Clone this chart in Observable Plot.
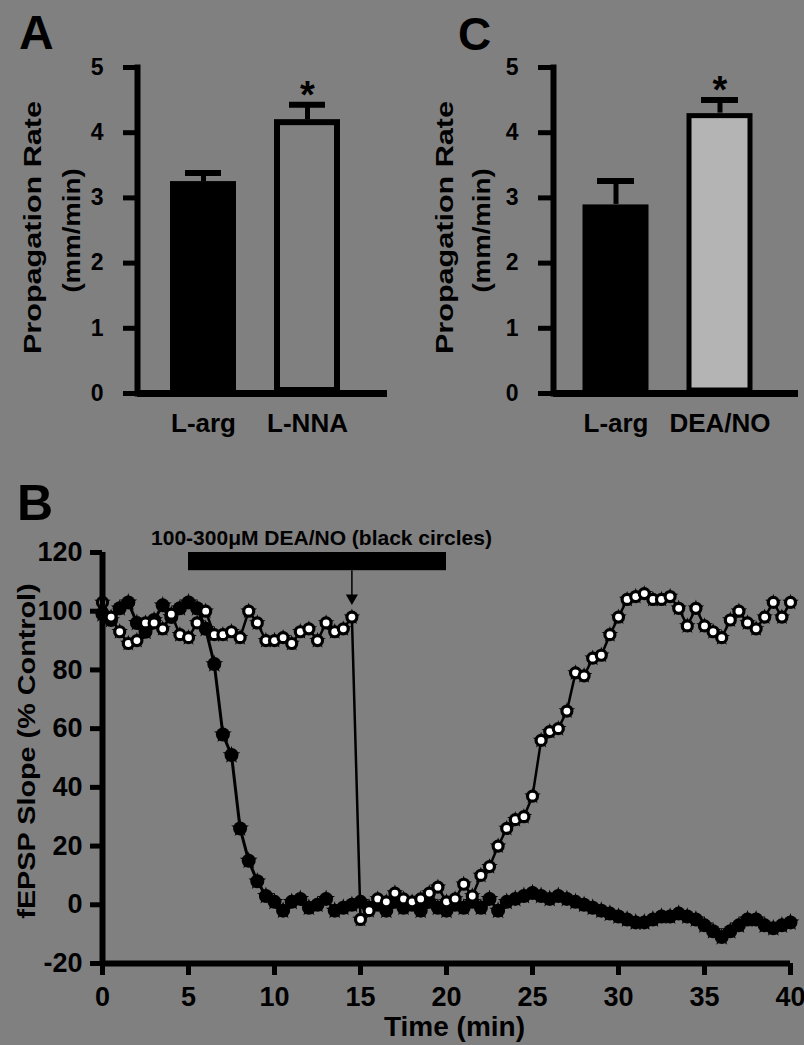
<!DOCTYPE html>
<html>
<head>
<meta charset="utf-8">
<script src="https://cdn.jsdelivr.net/npm/d3@7"></script>
<script src="https://cdn.jsdelivr.net/npm/@observablehq/plot@0.6"></script>
<style>
  html, body { margin: 0; padding: 0; background: #808080; }
  #fig { position: relative; width: 804px; height: 1045px; overflow: hidden; background: #808080;
         font-family: "Liberation Sans", Arial, Helvetica, sans-serif; font-weight: bold; color: black; }
  .panel { position: absolute; }
  .letter { position: absolute; line-height: 1; font-weight: bold; }
</style>
</head>
<body>
<div id="fig">
  <div id="pA" class="panel" style="left:0;top:0"></div>
  <div id="pC" class="panel" style="left:400px;top:0"></div>
  <div id="pB" class="panel" style="left:0;top:470px"></div>
  <div class="letter" style="left:19px;top:9px;font-size:48px">A</div>
  <div class="letter" style="left:458px;top:11px;font-size:46px">C</div>
  <div class="letter" style="left:17px;top:478px;font-size:50px">B</div>
</div>
<script>
// ---------- Panel A data ----------
const catsA = ["L-arg", "L-NNA"];
const meanA = [3.25, 4.2];
const semA = [0.13, 0.23];
const fillA = ["black", "#808080"];
const sigA = [false, true];

// ---------- Panel C data ----------
const catsC = ["L-arg", "DEA/NO"];
const meanC = [2.9, 4.3];
const semC = [0.36, 0.2];
const fillC = ["black", "#b4b4b4"];
const sigC = [false, true];

const barTicks = [0, 1, 2, 3, 4, 5];

// ---------- Panel B data ----------
const timeMin = Array.from({length: 81}, (_, i) => i * 0.5);
const blackCircles = [
  99, 97, 101, 103, 96, 93, 97, 102, 98, 101,
  103, 101, 94, 82, 58, 51, 26, 15, 8, 3,
  1, -2, 1, 2, -1, 0, 2, -2, -1, 0,
  1, -1, 0, -2, 1, -1, 0, -2, 1, -1,
  -2, 0, -1, 1, -1, 2, -2, 1, 2, 3,
  4, 3, 2, 3, 2, 1, 0, -1, -2, -3,
  -4, -5, -6, -6, -5, -4, -4, -3, -4, -5,
  -7, -9, -11, -9, -7, -5, -5, -7, -8, -7,
  -6
];
const whiteCircles = [
  103, 98, 93, 89, 90, 96, 96, 94, 99, 92,
  91, 96, 100, 92, 92, 93, 91, 100, 96, 90,
  90, 91, 89, 93, 94, 90, 96, 93, 94, 98,
  -5, -2, 2, 1, 4, 2, 1, 2, 4, 6,
  1, 2, 7, 3, 10, 13, 20, 26, 29, 30,
  37, 56, 59, 60, 66, 79, 78, 84, 85, 92,
  98, 104, 105, 106, 104, 104, 105, 101, 95, 101,
  95, 93, 91, 97, 100, 96, 94, 98, 103, 98,
  103
];
const xTicksB = [0, 5, 10, 15, 20, 25, 30, 35, 40];
const yTicksB = [-20, 0, 20, 40, 60, 80, 100, 120];
const drugLabel = "100-300\u03bcM DEA/NO (black circles)";
const drugWindow = [{start: 5, end: 20, low: 113.8, high: 120}];
const arrowTime = 14.5;
const arrowFrom = 113.8, arrowTo = 104.5;

const FONT = '"Liberation Sans", Arial, Helvetica, sans-serif';

function stretch(svg, labels, sx, sy) {
  svg.querySelectorAll("text").forEach(t => {
    if (!labels.includes(t.textContent)) return;
    let tr = t.getAttribute("transform") || "";
    const x = +t.getAttribute("x") || 0, y = +t.getAttribute("y") || 0;
    if (x || y) { tr = `${tr} translate(${x},${y})`; t.removeAttribute("x"); t.removeAttribute("y"); }
    t.setAttribute("transform", `${tr} scale(${sx},${sy})`);
  });
}

function barPanel(cats, means, sems, fills, sigs, opts) {
  const rows = cats.map((c, i) => ({cat: c, mean: means[i], sem: sems[i], fill: fills[i], sig: sigs[i]}));
  const svg = Plot.plot({
    width: opts.width, height: 460,
    marginLeft: opts.left, marginRight: opts.right, marginTop: 67, marginBottom: 67,
    style: {background: "transparent", fontFamily: FONT, overflow: "visible", color: "black"},
    x: {domain: cats, range: opts.range, paddingInner: opts.pi, paddingOuter: opts.po},
    y: {domain: [0, 5]},
    color: {type: "identity"},
    marks: [
      Plot.barY(rows, {x: "cat", y: "mean", fill: "fill", stroke: "black", strokeWidth: opts.sw, inset: 3}),
      Plot.ruleX(rows, {x: "cat", y1: "mean", y2: d => d.mean + d.sem, stroke: "black", strokeWidth: 5}),
      Plot.tickY(rows, {x: "cat", y: d => d.mean + d.sem, stroke: "black", strokeWidth: 6, inset: 15}),
      Plot.text(rows.filter(d => d.sig), {x: "cat", y: d => d.mean + d.sem, text: () => "*", dy: -9,
        fontSize: 38, fontWeight: "bold", fill: "black"}),
      Plot.ruleY([0], {stroke: "black", strokeWidth: 7}),
      Plot.frame({anchor: "left", stroke: "black", strokeWidth: 6}),
      Plot.axisY({ticks: barTicks, tickFormat: d => d, tickSize: opts.tickSize, tickPadding: 20,
        fontSize: 23, fontWeight: "bold", strokeWidth: 5, label: null}),
      Plot.axisX({tickSize: 0, tickPadding: 20, fontSize: 26, fontWeight: "bold", label: null}),
      Plot.text(["Propagation Rate"], {text: d => d, frameAnchor: "left", textAnchor: "middle", lineAnchor: "middle",
        rotate: -90, dx: opts.lab1, dy: -3, fontSize: 23, fontWeight: "bold", fill: "black"}),
      Plot.text(["(mm/min)"], {text: d => d, frameAnchor: "left", textAnchor: "middle", lineAnchor: "middle",
        rotate: -90, dx: opts.lab2, fontSize: 24, fontWeight: "bold", fill: "black"})
    ]
  });
  stretch(svg, ["Propagation Rate"], 1.33, 1);
  stretch(svg, ["(mm/min)"], 1.15, 1);
  return svg;
}

document.getElementById("pA").appendChild(barPanel(catsA, meanA, semA, fillA, sigA,
  {width: 400, left: 137, right: 13, range: [137, 373], pi: 0.365, po: 0.317, sw: 6, tickSize: 14, lab1: -104, lab2: -65}));
document.getElementById("pC").appendChild(barPanel(catsC, meanC, semC, fillC, sigC,
  {width: 404, left: 153, right: 6, range: [153, 382], pi: 0.36, po: 0.278, sw: 5, tickSize: 15, lab1: -108, lab2: -71}));

// ---------- Panel B ----------
const blackRows = timeMin.map((t, i) => ({t, v: blackCircles[i]}));
const whiteRows = timeMin.map((t, i) => ({t, v: whiteCircles[i]}));

const svgB = Plot.plot({
  width: 804, height: 575,
  marginLeft: 102, marginRight: 14, marginTop: 82, marginBottom: 82,
  style: {background: "transparent", fontFamily: FONT, overflow: "visible", color: "black"},
  x: {domain: [0, 40]},
  y: {domain: [-20, 120]},
  marks: [
    Plot.rect(drugWindow, {x1: "start", x2: "end", y1: "low", y2: "high", fill: "black"}),
    Plot.text([drugLabel], {text: d => d, x: drugWindow[0].start / 2 + drugWindow[0].end / 2, y: 125, dx: 4,
      fontSize: 21, fontWeight: "bold", fill: "black"}),
    Plot.ruleX([arrowTime], {y1: arrowFrom, y2: arrowTo, stroke: "black", strokeWidth: 1.5}),
    Plot.dot([arrowTime], {x: d => d, y: arrowTo, symbol: "triangle", rotate: 180, r: 4.5, fill: "black"}),
    // black circles (with spiky error-bar look)
    Plot.line(blackRows, {x: "t", y: "v", stroke: "black", strokeWidth: 3}),
    Plot.dot(blackRows, {x: "t", y: "v", r: 7, fill: "black"}),
    Plot.dot(blackRows, {x: "t", y: "v", r: 5.6, symbol: "star", fill: "black"}),
    // open circles
    Plot.line(whiteRows, {x: "t", y: "v", stroke: "black", strokeWidth: 2.5}),
    Plot.dot(whiteRows, {x: "t", y: "v", r: 5.2, symbol: "star", fill: "black"}),
    Plot.dot(whiteRows, {x: "t", y: "v", r: 5, fill: "white", stroke: "black", strokeWidth: 3.2}),
    Plot.ruleX([0], {stroke: "black", strokeWidth: 6}),
    Plot.ruleY([-20], {stroke: "black", strokeWidth: 6}),
    Plot.axisY({ticks: yTicksB, tickFormat: d => d, tickSize: 12, tickPadding: 8, fontSize: 27,
      fontWeight: "bold", strokeWidth: 5, label: null}),
    Plot.axisX({ticks: xTicksB, tickFormat: d => d, tickSize: 12, tickPadding: 11, fontSize: 27,
      fontWeight: "bold", strokeWidth: 5, label: null}),
    Plot.text(["fEPSP Slope (% Control)"], {text: d => d, frameAnchor: "left", textAnchor: "middle", lineAnchor: "middle",
      rotate: -90, dx: -75, dy: -7, fontSize: 24, fontWeight: "bold", fill: "black"}),
    Plot.text(["Time (min)"], {text: d => d, frameAnchor: "bottom", textAnchor: "middle", lineAnchor: "middle",
      dx: 8, dy: 64, fontSize: 28, fontWeight: "bold", fill: "black"})
  ]
});
stretch(svgB, ["fEPSP Slope (% Control)"], 1.2, 1);
document.getElementById("pB").appendChild(svgB);
</script>
</body>
</html>
